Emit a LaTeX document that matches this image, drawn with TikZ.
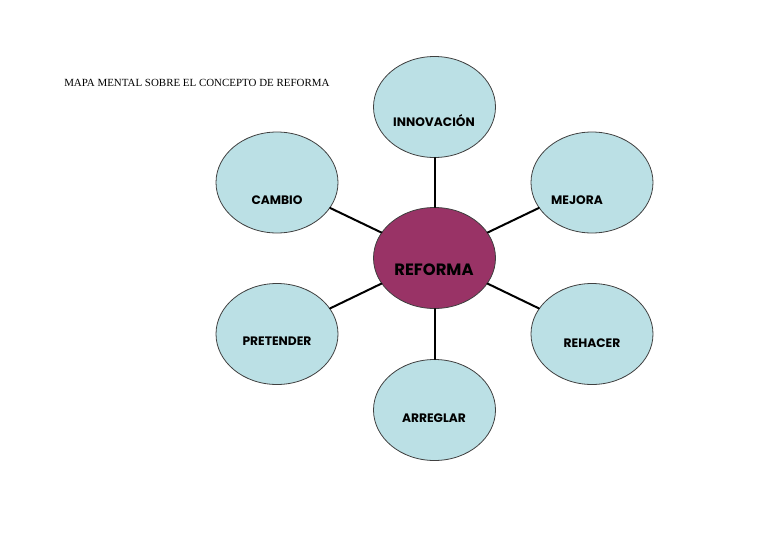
\documentclass[tikz,border=0pt]{standalone}
\usepackage{fontspec}
\setmainfont{Liberation Serif}
\newfontfamily\ideafont{Poppins}
\usetikzlibrary{shapes.geometric}
\definecolor{ideablue}{RGB}{187,224,229}
\definecolor{reformapurple}{RGB}{153,51,102}
\tikzset{
every picture/.append style={
    line join=round,
    line cap=round
  },
idea/.style={ellipse,draw=black!75,semithick,fill=ideablue,inner sep=0pt,
    minimum width=91.5pt,minimum height=75.75pt},
core/.style={idea,fill=reformapurple},
txt/.style={font=\ideafont\bfseries\fontsize{9.2}{11}\selectfont,inner sep=0pt},
link/.style={line width=1.5pt,black}}

\begin{document}
\begin{tikzpicture}[x=0.75pt,y=-0.75pt]
    \useasboundingbox (0,0) rectangle (768,543);
    \node [anchor=west,font=\fontsize{8.2}{10}\selectfont,inner sep=0pt] (title) at (64,83) {MAPA MENTAL SOBRE EL CONCEPTO DE REFORMA};
    % the ideas round the centre
    \node [core] (reforma) at (434.5,258) {};
    \node [idea] (innovacion) at (434.5,107) {};
    \node [idea] (cambio) at (277,182.5) {};
    \node [idea] (mejora) at (592,182.5) {};
    \node [idea] (pretender) at (277,334) {};
    \node [idea] (rehacer) at (592,334) {};
    \node [idea] (arreglar) at (434.5,410) {};
    \foreach \n in {innovacion,cambio,mejora,pretender,rehacer,arreglar}
        \draw [link] (reforma) -- (\n);
    % labels
    \node [txt,font=\ideafont\bfseries\fontsize{12.3}{14}\selectfont] (reforma-t) at (434,270) {REFORMA};
    \node [txt] (innovacion-t) at (434,121) {INNOVACIÓN};
    \node [txt] (cambio-t) at (277,200) {CAMBIO};
    \node [txt] (mejora-t) at (577,200) {MEJORA};
    \node [txt] (pretender-t) at (277,341) {PRETENDER};
    \node [txt] (rehacer-t) at (592,343) {REHACER};
    \node [txt] (arreglar-t) at (434,418) {ARREGLAR};
\end{tikzpicture}
\end{document}
